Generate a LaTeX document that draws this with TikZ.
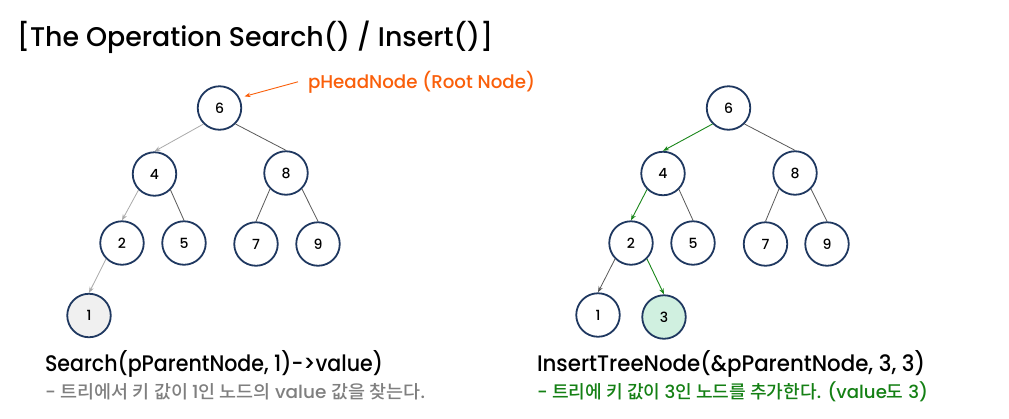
\documentclass[tikz,border=0pt]{standalone}
\usepackage{fontspec}
\usepackage{graphicx}
\setmainfont{Poppins}[BoldFont={Poppins Medium}]
\newfontfamily\kr{Noto Sans CJK KR}[BoldFont={Noto Sans CJK KR Medium}]
\usetikzlibrary{arrows.meta}
\definecolor{navy}{RGB}{31,56,96}
\definecolor{lgrey}{RGB}{170,170,170}
\definecolor{dgrey}{RGB}{89,89,89}
\definecolor{tgrey}{RGB}{127,127,127}
\definecolor{grn}{RGB}{26,135,26}
\definecolor{grntxt}{RGB}{20,128,20}
\definecolor{orng}{RGB}{250,95,10}
\definecolor{found}{RGB}{240,240,240}
\definecolor{mint}{RGB}{208,240,224}
\begin{document}
\begin{tikzpicture}[x=1pt,y=-1pt,
  tnode/.style={circle,draw=navy,line width=1.8pt,fill=white,minimum size=43.5pt,inner sep=0pt,font=\fontsize{14}{14}\selectfont\bfseries},
  txt/.style={anchor=base west,inner sep=0pt,outer sep=0pt,font=\bfseries},
  plain/.style={draw=dgrey,line width=0.8pt},
  lpath/.style={draw=lgrey,line width=0.8pt,-{Stealth[length=6pt,width=4.5pt]}},
  dpath/.style={draw=dgrey,line width=0.8pt,-{Stealth[length=6pt,width=4.5pt]}},
  gpath/.style={draw=grn,line width=0.9pt,-{Stealth[length=6pt,width=4.5pt]}}
]
\path[use as bounding box,fill=white] (0,0) rectangle (1009,418);

% title
\node[txt] (title) at (17,46) {\resizebox{476pt}{\height}{\fontsize{27}{27}\selectfont [The Operation Search() / Insert()]}};

% left tree
\node[tnode] (L6) at (219.5,108) {6};
\node[tnode] (L4) at (154.5,174) {4};
\node[tnode] (L8) at (286,173) {8};
\node[tnode] (L2) at (122,243) {2};
\node[tnode] (L5) at (184,243) {5};
\node[tnode] (L7) at (256,244) {7};
\node[tnode] (L9) at (318,244) {9};
\node[tnode,fill=found] (L1) at (89,315.5) {1};

\draw[lpath] (L6.south west) -- (L4.north);
\draw[plain] (L6.south east) -- (L8.north);
\draw[lpath] (L4.south west) -- (L2.north);
\draw[plain] (L4.south east) -- (L5.north);
\draw[plain] (L8.south west) -- (L7.north);
\draw[plain] (L8.south east) -- (L9.north);
\draw[lpath] (L2.south west) -- (L1.north);

\node[txt,text=orng] (lbl) at (308,88) {\resizebox{227pt}{\height}{\fontsize{18.5}{18.5}\selectfont pHeadNode (Root Node)}};
\draw[draw=orng,line width=0.9pt,-{Stealth[length=6pt,width=4.5pt]},shorten >=5pt] ([xshift=-10pt]lbl.west) -- (L6.27);

\node[txt] (stext) at (45,371) {\resizebox{338pt}{\height}{\fontsize{22.5}{22.5}\selectfont Search(pParentNode, 1)->value)}};
\node[txt,text=tgrey] (sdesc) at (45,398) {\resizebox{380pt}{\height}{\fontsize{18}{18}\selectfont - {\kr 트리에서 키 값이 }1{\kr 인 노드의 }value {\kr 값을 찾는다}.}};

% right tree
\node[tnode] (R6) at (728.5,108) {6};
\node[tnode] (R4) at (663,173.5) {4};
\node[tnode] (R8) at (795,173) {8};
\node[tnode] (R2) at (631,243) {2};
\node[tnode] (R5) at (693,243) {5};
\node[tnode] (R7) at (765.5,244) {7};
\node[tnode] (R9) at (827,244) {9};
\node[tnode] (R1) at (598,315) {1};
\node[tnode,fill=mint] (R3) at (664,317) {3};

\draw[gpath] (R6.south west) -- (R4.north);
\draw[plain] (R6.south east) -- (R8.north);
\draw[gpath] (R4.south west) -- (R2.north);
\draw[plain] (R4.south east) -- (R5.north);
\draw[plain] (R8.south west) -- (R7.north);
\draw[plain] (R8.south east) -- (R9.north);
\draw[dpath] (R2.south west) -- (R1.north);
\draw[gpath] (R2.south east) -- (R3.north);

\node[txt] (itext) at (537,371) {\resizebox{388pt}{\height}{\fontsize{22.5}{22.5}\selectfont InsertTreeNode(\&pParentNode, 3, 3)}};
\node[txt,text=grntxt] (idesc) at (537,398) {\resizebox{391pt}{\height}{\fontsize{18}{18}\selectfont - {\kr 트리에 키 값이 }3{\kr 인 노드를 추가한다}. (value{\kr 도} 3)}};
\end{tikzpicture}
\end{document}
